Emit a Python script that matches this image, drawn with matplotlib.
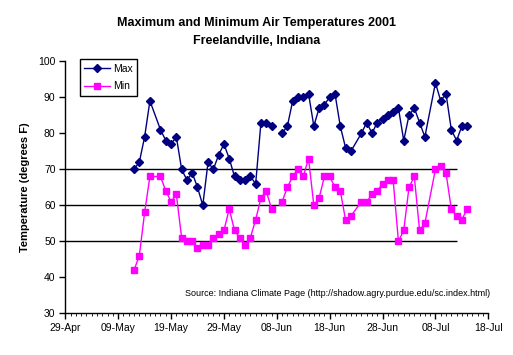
import numpy as np
import pandas as pd
import matplotlib
matplotlib.use("Agg")
import matplotlib.pyplot as plt
import matplotlib.dates as mdates

plt.rcParams['font.family'] = ['Liberation Sans', 'DejaVu Sans']

# daily readings, 2001 (Jun 8 missing -> NaN gap)
dates = ['05-12', '05-13', '05-14', '05-15', '05-17', '05-18', '05-19', '05-20',
         '05-21', '05-22', '05-23', '05-24', '05-25', '05-26', '05-27', '05-28',
         '05-29', '05-30', '05-31', '06-01', '06-02', '06-03', '06-04', '06-05',
         '06-06', '06-07', '06-08', '06-09', '06-10', '06-11', '06-12', '06-13',
         '06-14', '06-15', '06-16', '06-17', '06-18', '06-19', '06-20', '06-21',
         '06-22', '06-24', '06-25', '06-26', '06-27', '06-28', '06-29', '06-30',
         '07-01', '07-02', '07-03', '07-04', '07-05', '07-06', '07-08', '07-09',
         '07-10', '07-11', '07-12', '07-13', '07-14']
t_max = [70, 72, 79, 89, 81, 78, 77, 79,
         70, 67, 69, 65, 60, 72, 70, 74,
         77, 73, 68, 67, 67, 68, 66, 83,
         83, 82, np.nan, 80, 82, 89, 90, 90,
         91, 82, 87, 88, 90, 91, 82, 76,
         75, 80, 83, 80, 83, 84, 85, 86,
         87, 78, 85, 87, 83, 79, 94, 89,
         91, 81, 78, 82, 82]
t_min = [42, 46, 58, 68, 68, 64, 61, 63,
         51, 50, 50, 48, 49, 49, 51, 52,
         53, 59, 53, 51, 49, 51, 56, 62,
         64, 59, np.nan, 61, 65, 68, 70, 68,
         73, 60, 62, 68, 68, 65, 64, 56,
         57, 61, 61, 63, 64, 66, 67, 67,
         50, 53, 65, 68, 53, 55, 70, 71,
         69, 59, 57, 56, 59]
ref_levels = [50, 60, 70]

x = pd.to_datetime(['2001-' + d for d in dates])

fig = plt.figure(figsize=(5.13, 3.55), dpi=100)
ax = fig.add_axes([0.1273, 0.1175, 0.8246, 0.7098])

ax.hlines(ref_levels, pd.Timestamp('2001-04-29'), pd.Timestamp('2001-07-12'),
          color='black', linewidth=1)

ax.plot(x, t_max, color='#000080', linewidth=1, marker='D', markersize=4.5,
        label='Max')
ax.plot(x, t_min, color='#FF00FF', linewidth=1, marker='s', markersize=5,
        label='Min')

ax.set_xlim(pd.Timestamp('2001-04-29'), pd.Timestamp('2001-07-18'))
ax.set_ylim(30, 100)
ax.set_yticks(range(30, 101, 10))
ax.set_xticks(pd.date_range('2001-04-29', '2001-07-18', freq='10D'))
ax.set_xticks(pd.date_range('2001-04-29', '2001-07-18', freq='D'), minor=True)
ax.xaxis.set_major_formatter(mdates.DateFormatter('%d-%b'))

for s in ['top', 'right']:
    ax.spines[s].set_visible(False)
for s in ['left', 'bottom']:
    ax.spines[s].set_linewidth(1)

ax.tick_params(axis='both', which='major', labelsize=7.5, length=4, width=1,
               direction='out', pad=3)
ax.tick_params(axis='x', which='minor', length=2, width=0.6)

ax.set_ylabel('Temperature (degrees F)', fontsize=8, fontweight='bold',
              labelpad=6)

fig.text(0.5, 0.935, 'Maximum and Minimum Air Temperatures 2001',
         ha='center', va='center', fontsize=9, fontweight='bold')
fig.text(0.5, 0.885, 'Freelandville, Indiana',
         ha='center', va='center', fontsize=9, fontweight='bold')

ax.text(1.004, 0.077, 'Source: Indiana Climate Page (http://shadow.agry.purdue.edu/sc.index.html)',
        transform=ax.transAxes, ha='right', va='center', fontsize=6.5)

leg = ax.legend(loc='upper left', bbox_to_anchor=(80 / 513, 1 - 59.5 / 355),
                bbox_transform=fig.transFigure, fancybox=False, framealpha=1,
                edgecolor='black', fontsize=7.5, handlelength=2.5,
                borderpad=0.4, labelspacing=0.75, handletextpad=0.3,
                borderaxespad=0)
leg.get_frame().set_linewidth(1)

fig.savefig('out.png', dpi=100)
